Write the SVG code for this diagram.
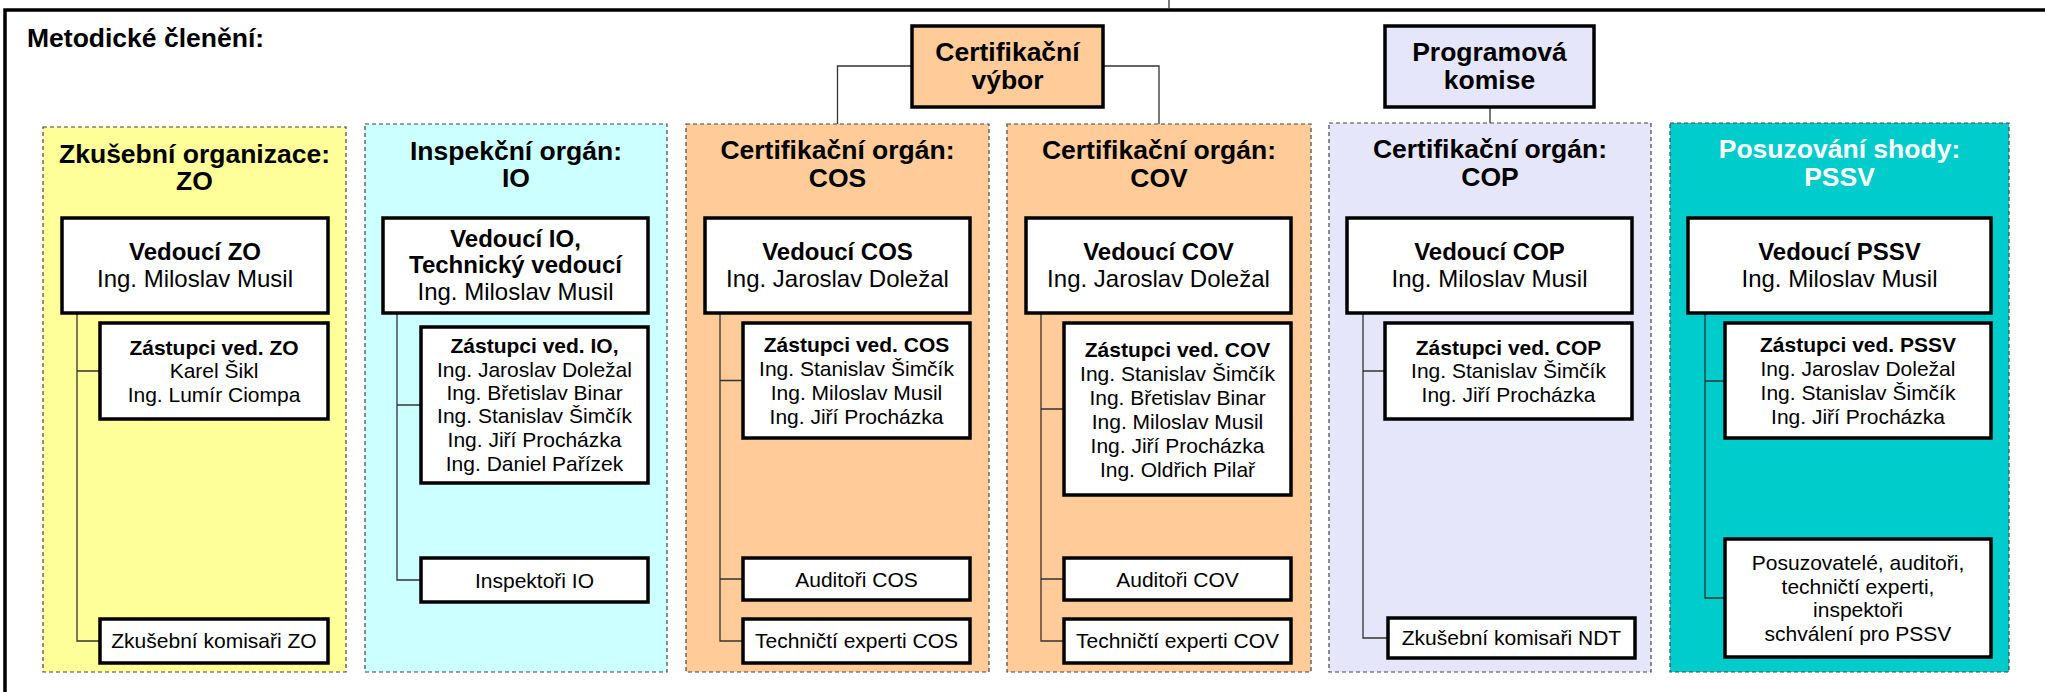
<svg xmlns="http://www.w3.org/2000/svg" width="2045" height="692" viewBox="0 0 2045 692">
<style>
text{font-family:"Liberation Sans",Arial,sans-serif;fill:#000;text-anchor:middle}
.t{font-size:26.5px;font-weight:bold;text-anchor:start}
.h{font-size:26.5px;font-weight:bold}
.hw{font-size:26.5px;font-weight:bold;fill:#fff}
.lb{font-size:24px;font-weight:bold}
.l{font-size:24px}
.db{font-size:21px;font-weight:bold}
.d{font-size:21px}
.grp{stroke:#444;stroke-width:1.2;stroke-dasharray:4 3}
.box{fill:#fff;stroke:#000;stroke-width:3.5}
.top{stroke:#000;stroke-width:3.5}
.con{fill:none;stroke:#333;stroke-width:1.3}
.frame{fill:none;stroke:#000;stroke-width:3.5}
</style>
<rect width="2045" height="692" fill="#fff"/>
<path class="frame" d="M5,700 L5,10 L2050,10"/>
<text class="t" x="27" y="47">Metodické členění:</text>

<g id="grp-zo">
<rect class="grp" x="43" y="127" width="303" height="545" fill="#FFFF99"/>
<text class="h" x="194.5" y="163">Zkušební organizace:</text>
<text class="h" x="194.5" y="190">ZO</text>
</g>
<g id="grp-io">
<rect class="grp" x="365" y="124" width="302" height="548" fill="#CCFFFF"/>
<text class="h" x="516" y="160">Inspekční orgán:</text>
<text class="h" x="516" y="187">IO</text>
</g>
<g id="grp-cos">
<rect class="grp" x="686" y="124" width="303" height="548" fill="#FFCC99"/>
<text class="h" x="837.5" y="159">Certifikační orgán:</text>
<text class="h" x="837.5" y="187">COS</text>
</g>
<g id="grp-cov">
<rect class="grp" x="1007" y="124" width="304" height="548" fill="#FFCC99"/>
<text class="h" x="1159" y="159">Certifikační orgán:</text>
<text class="h" x="1159" y="187">COV</text>
</g>
<g id="grp-cop">
<rect class="grp" x="1329" y="123" width="322" height="549" fill="#E6E6FA"/>
<text class="h" x="1490" y="158">Certifikační orgán:</text>
<text class="h" x="1490" y="186">COP</text>
</g>
<g id="grp-pssv">
<rect class="grp" x="1670" y="123" width="339" height="549" fill="#00CCCC"/>
<text class="hw" x="1839.5" y="158">Posuzování shody:</text>
<text class="hw" x="1839.5" y="186">PSSV</text>
</g>

<g id="connectors">
<path class="con" d="M1169,0 V9"/>
<path class="con" d="M912,66 H837.5 V124 M1103,66 H1159 V124"/>
<path class="con" d="M1490,107 V123"/>
<path class="con" d="M77,313 V641 H100 M77,371 H100"/>
<path class="con" d="M397,313 V580 H421 M397,405 H421"/>
<path class="con" d="M720,313 V641 H743 M720,380.5 H743 M720,579 H743"/>
<path class="con" d="M1041,313 V641 H1064 M1041,409 H1064 M1041,579 H1064"/>
<path class="con" d="M1363,313 V638 H1388 M1363,371 H1385"/>
<path class="con" d="M1705,313 V598 H1725 M1705,381 H1725"/>
</g>

<g id="cert-vybor">
<rect class="top" x="912" y="26" width="191" height="81" fill="#FFCC99"/>
<text class="h" x="1007.5" y="61">Certifikační</text>
<text class="h" x="1007.5" y="89">výbor</text>
</g>
<g id="prog-komise">
<rect class="top" x="1385" y="26" width="209" height="81" fill="#E6E6FA"/>
<text class="h" x="1489.5" y="61">Programová</text>
<text class="h" x="1489.5" y="89">komise</text>
</g>

<g id="zo-lead">
<rect class="box" x="62" y="218" width="266" height="95"/>
<text class="lb" x="195" y="260">Vedoucí ZO</text>
<text class="l" x="195" y="287">Ing. Miloslav Musil</text>
</g>
<g id="zo-dep">
<rect class="box" x="100" y="323" width="228" height="96"/>
<text class="db" x="214" y="355">Zástupci ved. ZO</text>
<text class="d" x="214" y="378">Karel Šikl</text>
<text class="d" x="214" y="402">Ing. Lumír Ciompa</text>
</g>
<g id="zo-kom">
<rect class="box" x="100" y="619" width="228" height="44"/>
<text class="d" x="214" y="648">Zkušební komisaři ZO</text>
</g>

<g id="io-lead">
<rect class="box" x="383" y="218" width="265" height="95"/>
<text class="lb" x="515.5" y="247">Vedoucí IO,</text>
<text class="lb" x="515.5" y="273">Technický vedoucí</text>
<text class="l" x="515.5" y="300">Ing. Miloslav Musil</text>
</g>
<g id="io-dep">
<rect class="box" x="421" y="327" width="227" height="156"/>
<text class="db" x="534.5" y="353">Zástupci ved. IO,</text>
<text class="d" x="534.5" y="377">Ing. Jaroslav Doležal</text>
<text class="d" x="534.5" y="400">Ing. Břetislav Binar</text>
<text class="d" x="534.5" y="423">Ing. Stanislav Šimčík</text>
<text class="d" x="534.5" y="447">Ing. Jiří Procházka</text>
<text class="d" x="534.5" y="471">Ing. Daniel Pařízek</text>
</g>
<g id="io-insp">
<rect class="box" x="421" y="558" width="227" height="44"/>
<text class="d" x="534.5" y="588">Inspektoři IO</text>
</g>

<g id="cos-lead">
<rect class="box" x="705" y="218" width="265" height="95"/>
<text class="lb" x="837.5" y="260">Vedoucí COS</text>
<text class="l" x="837.5" y="287">Ing. Jaroslav Doležal</text>
</g>
<g id="cos-dep">
<rect class="box" x="743" y="323" width="227" height="115"/>
<text class="db" x="856.5" y="352">Zástupci ved. COS</text>
<text class="d" x="856.5" y="376">Ing. Stanislav Šimčík</text>
<text class="d" x="856.5" y="400">Ing. Miloslav Musil</text>
<text class="d" x="856.5" y="424">Ing. Jiří Procházka</text>
</g>
<g id="cos-aud">
<rect class="box" x="743" y="558" width="227" height="42"/>
<text class="d" x="856.5" y="587">Auditoři COS</text>
</g>
<g id="cos-tech">
<rect class="box" x="743" y="619" width="227" height="44"/>
<text class="d" x="856.5" y="648">Techničtí experti COS</text>
</g>

<g id="cov-lead">
<rect class="box" x="1026" y="218" width="265" height="95"/>
<text class="lb" x="1158.5" y="260">Vedoucí COV</text>
<text class="l" x="1158.5" y="287">Ing. Jaroslav Doležal</text>
</g>
<g id="cov-dep">
<rect class="box" x="1064" y="323" width="227" height="172"/>
<text class="db" x="1177.5" y="357">Zástupci ved. COV</text>
<text class="d" x="1177.5" y="381">Ing. Stanislav Šimčík</text>
<text class="d" x="1177.5" y="405">Ing. Břetislav Binar</text>
<text class="d" x="1177.5" y="429">Ing. Miloslav Musil</text>
<text class="d" x="1177.5" y="453">Ing. Jiří Procházka</text>
<text class="d" x="1177.5" y="477">Ing. Oldřich Pilař</text>
</g>
<g id="cov-aud">
<rect class="box" x="1064" y="558" width="227" height="42"/>
<text class="d" x="1177.5" y="587">Auditoři COV</text>
</g>
<g id="cov-tech">
<rect class="box" x="1064" y="619" width="227" height="44"/>
<text class="d" x="1177.5" y="648">Techničtí experti COV</text>
</g>

<g id="cop-lead">
<rect class="box" x="1347" y="218" width="285" height="95"/>
<text class="lb" x="1489.5" y="260">Vedoucí COP</text>
<text class="l" x="1489.5" y="287">Ing. Miloslav Musil</text>
</g>
<g id="cop-dep">
<rect class="box" x="1385" y="323" width="247" height="96"/>
<text class="db" x="1508.5" y="355">Zástupci ved. COP</text>
<text class="d" x="1508.5" y="378">Ing. Stanislav Šimčík</text>
<text class="d" x="1508.5" y="402">Ing. Jiří Procházka</text>
</g>
<g id="cop-kom">
<rect class="box" x="1388" y="618" width="247" height="40"/>
<text class="d" x="1511.5" y="645">Zkušební komisaři NDT</text>
</g>

<g id="pssv-lead">
<rect class="box" x="1688" y="218" width="303" height="95"/>
<text class="lb" x="1839.5" y="260">Vedoucí PSSV</text>
<text class="l" x="1839.5" y="287">Ing. Miloslav Musil</text>
</g>
<g id="pssv-dep">
<rect class="box" x="1725" y="323" width="266" height="115"/>
<text class="db" x="1858" y="352">Zástupci ved. PSSV</text>
<text class="d" x="1858" y="376">Ing. Jaroslav Doležal</text>
<text class="d" x="1858" y="400">Ing. Stanislav Šimčík</text>
<text class="d" x="1858" y="424">Ing. Jiří Procházka</text>
</g>
<g id="pssv-pos">
<rect class="box" x="1725" y="539" width="266" height="118"/>
<text class="d" x="1858" y="570">Posuzovatelé, auditoři,</text>
<text class="d" x="1858" y="594">techničtí experti,</text>
<text class="d" x="1858" y="617">inspektoři</text>
<text class="d" x="1858" y="641">schválení pro PSSV</text>
</g>
</svg>
